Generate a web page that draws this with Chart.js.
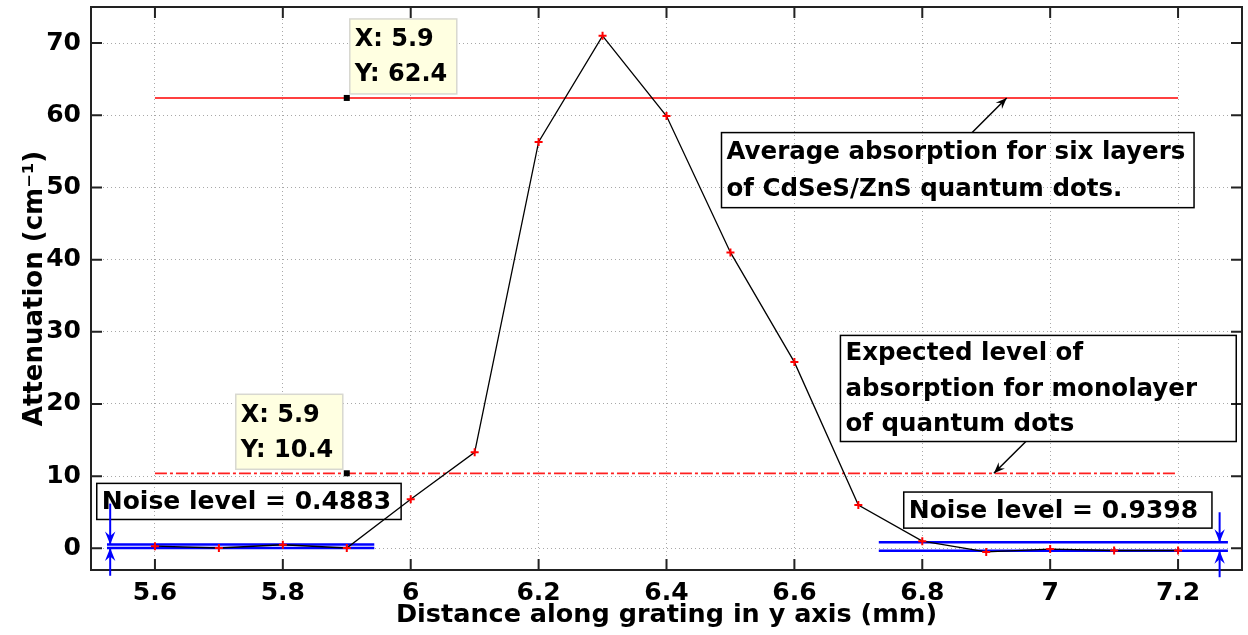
<!DOCTYPE html>
<html>
<head>
<meta charset="utf-8">
<script src="https://cdn.jsdelivr.net/npm/chart.js@4.4.0/dist/chart.umd.min.js"></script>
<style>
  html, body { margin: 0; padding: 0; background: #ffffff; }
  #wrap { width: 1248px; height: 635px; position: relative; }
</style>
</head>
<body>
<div id="wrap"><canvas id="chart" width="1248" height="635"></canvas></div>
<script>
// ---- data ----
const distance = [5.6, 5.7, 5.8, 5.9, 6.0, 6.1, 6.2, 6.3, 6.4, 6.5, 6.6, 6.7, 6.8, 6.9, 7.0, 7.1, 7.2];
const attenuation = [0.3, 0.05, 0.5, 0.05, 6.8, 13.3, 56.3, 71.0, 59.9, 41.0, 25.8, 6.0, 1.0, -0.5, -0.1, -0.3, -0.3];

const xTicks = [5.6, 5.8, 6.0, 6.2, 6.4, 6.6, 6.8, 7.0, 7.2];
const yTicks = [0, 10, 20, 30, 40, 50, 60, 70];

const avgSixLayers = 62.4;     // solid red line
const monolayerLevel = 10.4;   // dash-dot red line
const refSpan = [5.6, 7.2];

const noiseLeftLevels = [0.54, 0.05];
const noiseLeftSpan = [5.525, 5.943];
const noiseRightLevels = [0.85, -0.35];
const noiseRightSpan = [6.732, 7.278];

const tipX = [5.9, 5.9];
const tipY = [62.4, 10.4];

// ---- annotation layout (data coords) ----
const textBoxes = [
  { x0: 6.486, y0: 57.6, x1: 7.225, y1: 47.2, size: 24.5, lines: ['Average absorption for six layers', 'of CdSeS/ZnS quantum dots.'] },
  { x0: 6.672, y0: 29.5, x1: 7.291, y1: 14.8, size: 24.5, lines: ['Expected level of', 'absorption for monolayer', 'of quantum dots'] },
  { x0: 5.509, y0: 9.0, x1: 5.985, y1: 4.0, size: 25, lines: ['Noise level = 0.4883'] },
  { x0: 6.771, y0: 7.8, x1: 7.253, y1: 2.8, size: 25, lines: ['Noise level = 0.9398'] }
];
const blackArrows = [
  { from: [6.878, 57.6], to: [6.932, 62.4] },
  { from: [6.962, 14.8], to: [6.912, 10.4] }
];
const blueArrows = [
  { from: [5.53, 6.2], to: [5.53, 0.54] },
  { from: [5.53, -3.8], to: [5.53, 0.05] },
  { from: [7.265, 5.0], to: [7.265, 0.85] },
  { from: [7.265, -4.0], to: [7.265, -0.35] }
];

const FONT = '"DejaVu Sans", "Liberation Sans", Arial, sans-serif';

function hLine(level, span, color, width, dash) {
  return {
    type: 'line',
    data: span.map(v => ({ x: v, y: level })),
    borderColor: color, borderWidth: width, borderDash: dash || [],
    pointRadius: 0, fill: false, order: 2
  };
}

function arrow(ctx, x1, y1, x2, y2, color, head, lw) {
  const a = Math.atan2(y2 - y1, x2 - x1);
  ctx.save();
  ctx.strokeStyle = color; ctx.fillStyle = color; ctx.lineWidth = lw;
  ctx.beginPath(); ctx.moveTo(x1, y1); ctx.lineTo(x2, y2); ctx.stroke();
  ctx.beginPath();
  ctx.moveTo(x2, y2);
  ctx.lineTo(x2 - head * Math.cos(a - 0.38), y2 - head * Math.sin(a - 0.38));
  ctx.lineTo(x2 - head * 0.6 * Math.cos(a), y2 - head * 0.6 * Math.sin(a));
  ctx.lineTo(x2 - head * Math.cos(a + 0.38), y2 - head * Math.sin(a + 0.38));
  ctx.closePath(); ctx.fill();
  ctx.restore();
}

// box outline + inside ticks (matlab style)
const boxPlugin = {
  id: 'boxPlugin',
  afterDatasetsDraw(chart) {
    const { ctx, chartArea: a, scales: { x, y } } = chart;
    ctx.save();
    ctx.strokeStyle = '#222'; ctx.lineWidth = 2;
    ctx.strokeRect(a.left, a.top, a.right - a.left, a.bottom - a.top);
    ctx.beginPath();
    xTicks.forEach(v => {
      const px = x.getPixelForValue(v);
      ctx.moveTo(px, a.bottom); ctx.lineTo(px, a.bottom - 11);
      ctx.moveTo(px, a.top); ctx.lineTo(px, a.top + 11);
    });
    yTicks.forEach(v => {
      const py = y.getPixelForValue(v);
      ctx.moveTo(a.left, py); ctx.lineTo(a.left + 11, py);
      ctx.moveTo(a.right, py); ctx.lineTo(a.right - 11, py);
    });
    ctx.stroke();
    ctx.restore();
  },
  afterDraw(chart) {
    const { ctx, scales: { x, y } } = chart;
    const X = v => x.getPixelForValue(v), Y = v => y.getPixelForValue(v);

    // text boxes
    ctx.save();
    ctx.textBaseline = 'middle';
    textBoxes.forEach(b => {
      const l = X(b.x0), t = Y(b.y0), r = X(b.x1), btm = Y(b.y1);
      ctx.strokeStyle = '#000'; ctx.lineWidth = 1.5;
      ctx.strokeRect(l, t, r - l, btm - t);
      ctx.fillStyle = '#000';
      ctx.font = 'bold ' + b.size + 'px ' + FONT;
      const step = (btm - t) / b.lines.length;
      b.lines.forEach((s, i) => ctx.fillText(s, l + 5, t + step * (i + 0.5) + 1));
    });
    ctx.restore();

    blackArrows.forEach(ar => arrow(ctx, X(ar.from[0]), Y(ar.from[1]), X(ar.to[0]), Y(ar.to[1]), '#000', 12, 1.5));
    blueArrows.forEach(ar => arrow(ctx, X(ar.from[0]), Y(ar.from[1]), X(ar.to[0]), Y(ar.to[1]), '#0000ff', 14, 2));

    // data tips
    const offs = [[3, -79], [-111, -79]];
    tipX.forEach((tx, i) => {
      const px = X(tx), py = Y(tipY[i]);
      const l = px + offs[i][0], t = py + offs[i][1];
      ctx.save();
      ctx.fillStyle = '#ffffe1'; ctx.strokeStyle = '#d8d8d0'; ctx.lineWidth = 1.5;
      ctx.fillRect(l, t, 107, 75); ctx.strokeRect(l, t, 107, 75);
      ctx.fillStyle = '#000';
      ctx.font = 'bold 24px ' + FONT; ctx.textBaseline = 'middle';
      ctx.fillText('X: ' + tx, l + 5, t + 21);
      ctx.fillText('Y: ' + tipY[i].toFixed(1), l + 5, t + 56);
      ctx.fillRect(px - 3, py - 3, 6, 6);
      ctx.restore();
    });
  }
};

new Chart(document.getElementById('chart'), {
  type: 'line',
  data: {
    datasets: [
      {
        data: distance.map((d, i) => ({ x: d, y: attenuation[i] })),
        borderColor: '#000000', borderWidth: 1.3,
        pointStyle: 'cross', pointRadius: 4, pointBorderWidth: 2,
        pointBorderColor: '#ff0000', pointBackgroundColor: '#ff0000',
        fill: false, order: 1
      },
      hLine(avgSixLayers, refSpan, '#ff0000', 1.5),
      hLine(monolayerLevel, refSpan, '#ff2020', 1.8, [12, 3, 3, 3]),
      ...noiseLeftLevels.map(v => hLine(v, noiseLeftSpan, '#0000ff', 2.5)),
      ...noiseRightLevels.map(v => hLine(v, noiseRightSpan, '#0000ff', 2.5))
    ]
  },
  options: {
    responsive: false, animation: false,
    devicePixelRatio: 1,
    layout: { padding: { top: 7, right: 5, left: 0, bottom: 0 } },
    plugins: { legend: { display: false }, tooltip: { enabled: false } },
    scales: {
      x: {
        type: 'linear', min: 5.5, max: 7.3,
        afterBuildTicks: s => { s.ticks = xTicks.map(v => ({ value: v })); },
        afterFit: s => { s.height = 65; s.paddingLeft = 0; s.paddingRight = 0; },
        grid: { color: '#a8a8a8', lineWidth: 1, drawTicks: false },
        border: { display: false, dash: [1, 3] },
        ticks: { color: '#000', padding: 8, font: { family: FONT, size: 25, weight: 'bold' },
                 callback: v => String(+v.toFixed(1)) },
        title: { display: true, text: 'Distance along grating in y axis (mm)', color: '#000',
                 font: { family: FONT, size: 25.5, weight: 'bold' }, padding: { top: 0, bottom: 4 } }
      },
      y: {
        type: 'linear', min: -3, max: 75,
        afterBuildTicks: s => { s.ticks = yTicks.map(v => ({ value: v })); },
        afterFit: s => { s.width = 91; s.paddingTop = 0; s.paddingBottom = 0; },
        grid: { color: '#a8a8a8', lineWidth: 1, drawTicks: false },
        border: { display: false, dash: [1, 3] },
        ticks: { color: '#000', padding: 10, font: { family: FONT, size: 25, weight: 'bold' } },
        title: { display: true, text: 'Attenuation (cm\u207B\u00B9)', color: '#000',
                 font: { family: FONT, size: 26, weight: 'bold' }, padding: { top: 20, bottom: 0 } }
      }
    }
  },
  plugins: [boxPlugin]
});
</script>
</body>
</html>
